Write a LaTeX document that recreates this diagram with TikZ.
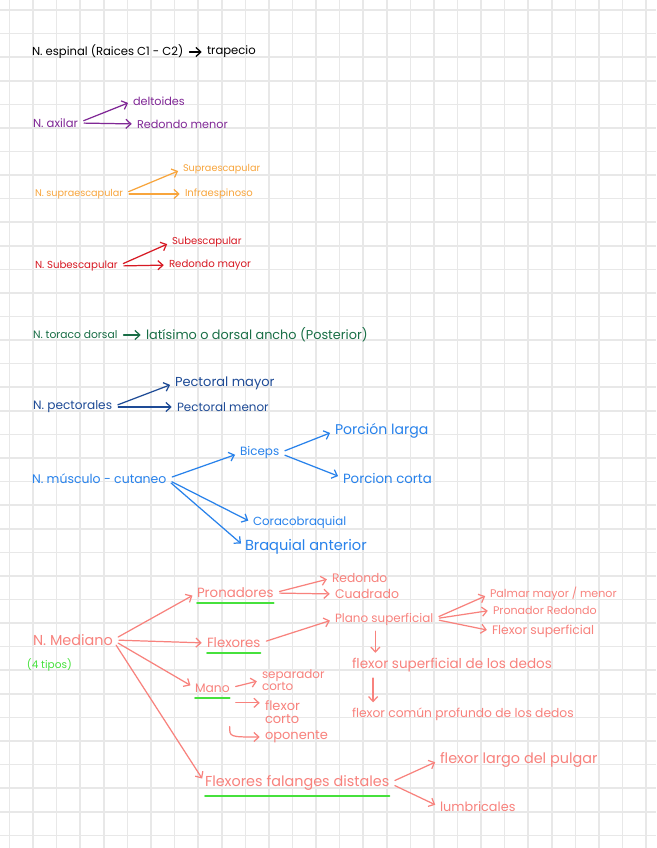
\documentclass[tikz,border=0pt]{standalone}
\usepackage{fontspec}
\setmainfont{Poppins}
\usetikzlibrary{arrows.meta}
\definecolor{gridgray}{RGB}{232,232,232}
\definecolor{axilpurple}{RGB}{128,40,150}
\definecolor{supraorange}{RGB}{248,165,60}
\definecolor{subred}{RGB}{215,25,35}
\definecolor{torgreen}{RGB}{25,110,70}
\definecolor{pecblue}{RGB}{30,75,150}
\definecolor{mcblue}{RGB}{40,130,235}
\definecolor{medsalmon}{RGB}{248,130,125}
\definecolor{limegreen}{RGB}{70,225,60}

\begin{document}
\begin{tikzpicture}[
  x=0.02cm, y=-0.02cm,
  lbl/.style  ={anchor=west, inner sep=0pt, outer sep=0pt, align=left},
  sz/.style   ={font=\fontsize{#1}{#1}\selectfont},
  arr/.style  ={-{Straight Barb[length=2.8pt,width=5.2pt]}, line width=0.7pt,
                line cap=round, shorten <=3.5pt, shorten >=3pt},
  uline/.style={draw=limegreen, line width=1.1pt, line cap=round,
                transform canvas={yshift=-3pt}},
  gridline/.style={draw=gridgray, line width=0.9pt},
]

% paper
\useasboundingbox (0,0) rectangle (656,848);
\fill[white] (0,0) rectangle (656,848);
\foreach \i in {0,...,27}
  \draw[gridline] ({9.5+23.58*\i},0) -- ++(0,848);
\foreach \j in {0,...,35}
  \draw[gridline] (0,{10+23.58*\j}) -- ++(656,0);

% N. espinal
\node[lbl, sz=6.6] (esp)  at (32,52)  {N. espinal (Raices C1 - C2)};
\node[lbl, sz=6.6] (trap) at (207,52) {trapecio};
\draw[arr] (esp) -- (trap);

% N. axilar
\begin{scope}[color=axilpurple]
\node[lbl, sz=6.6] (ax)   at (33,123)  {N. axilar};
\node[lbl, sz=6.4] (del)  at (133,101) {deltoides};
\node[lbl, sz=6.4] (rmen) at (137,124) {Redondo menor};
\draw[arr] (ax.east) -- (del.west);
\draw[arr] (ax.east) -- (rmen.west);
\end{scope}

% N. supraescapular
\begin{scope}[color=supraorange]
\node[lbl, sz=5.5] (supra) at (35,194)  {N. supraescapular};
\node[lbl, sz=5.5] (supe)  at (183,169) {Supraescapular};
\node[lbl, sz=5.7] (infra) at (185,194) {Infraespinoso};
\draw[arr] (supra.east) -- (supe.west);
\draw[arr] (supra.east) -- (infra.west);
\end{scope}

% N. subescapular
\begin{scope}[color=subred]
\node[lbl, sz=5.8] (sub)  at (35,266)  {N. Subescapular};
\node[lbl, sz=5.7] (sube) at (172,242) {Subescapular};
\node[lbl, sz=5.8] (rmay) at (169,265) {Redondo mayor};
\draw[arr] (sub.east) -- (sube.west);
\draw[arr] (sub.east) -- (rmay.west);
\end{scope}

% N. toraco dorsal
\begin{scope}[color=torgreen]
\node[lbl, sz=6.1] (tor) at (33,335)  {N. toraco dorsal};
\node[lbl, sz=7.3] (lat) at (146,335) {latísimo o dorsal ancho (Posterior)};
\draw[arr] (tor) -- (lat);
\end{scope}

% N. pectorales
\begin{scope}[color=pecblue]
\node[lbl, sz=6.9] (pec)  at (33,407)  {N. pectorales};
\node[lbl, sz=7.4] (pmay) at (175,383) {Pectoral mayor};
\node[lbl, sz=6.8] (pmen) at (177,407) {Pectoral menor};
\draw[arr] (pec.east) -- (pmay.west);
\draw[arr] (pec.east) -- (pmen.west);
\end{scope}

% N. musculo-cutaneo
\begin{scope}[color=mcblue]
\node[lbl, sz=7.1] (mc)   at (32,479)  {N. músculo - cutaneo};
\node[lbl, sz=6.8] (bic)  at (240,453) {Biceps};
\node[lbl, sz=8]   (plar) at (335,431) {Porción larga};
\node[lbl, sz=7.6] (pcor) at (343,478) {Porcion corta};
\node[lbl, sz=6.7] (cora) at (253,523) {Coracobraquial};
\node[lbl, sz=8.3] (braq) at (245,547) {Braquial anterior};
\draw[arr] (mc.east) -- (bic.west);
\draw[arr] (mc.east) -- (cora.west);
\draw[arr] (mc.east) -- (braq.west);
\draw[arr] (bic.east) -- (plar.west);
\draw[arr] (bic.east) -- (pcor.west);
\end{scope}

% N. mediano
\begin{scope}[color=medsalmon]
\node[lbl, sz=8.2] (med)   at (33,640)  {N. Mediano};
\node[lbl, sz=6, text=limegreen] (tipos) at (27,665) {(4 tipos)};
\node[lbl, sz=7.6] (pron)  at (197,593) {Pronadores};
\node[lbl, sz=7.6] (flex)  at (207,643) {Flexores};
\node[lbl, sz=7]   (mano)  at (195,688) {Mano};
\node[lbl, sz=8.2] (ffd)   at (205,783) {Flexores falanges distales};
\node[lbl, sz=7]   (red)   at (332,578) {Redondo};
\node[lbl, sz=7.1] (cuad)  at (335,594) {Cuadrado};
\node[lbl, sz=6.8] (plano) at (335,619) {Plano superficial};
\node[lbl, sz=6.3] (palm)  at (490,594) {Palmar mayor / menor};
\node[lbl, sz=6.3] (prr)   at (493,610) {Pronador Redondo};
\node[lbl, sz=7]   (fsup)  at (492,631) {Flexor superficial};
\node[lbl, sz=7.7] (fsd)   at (352,665) {flexor superficial de los dedos};
\node[lbl, sz=7]   (fcp)   at (352,714) {flexor común profundo de los dedos};
\node[lbl, sz=6.8] (sep)   at (262,680) {separador\\corto};
\node[lbl, sz=7.4] (fco)   at (265,712) {flexor\\corto};
\node[lbl, sz=7.4] (opo)   at (265,737) {oponente};
\node[lbl, sz=8.2] (flp)   at (440,760) {flexor largo del pulgar};
\node[lbl, sz=7.3] (lum)   at (440,807) {lumbricales};

\draw[arr] (med.east) -- (pron.west);
\draw[arr] (med.east) -- (flex.west);
\draw[arr] (med.east) -- (mano.west);
\draw[arr] (med.east) -- (ffd.west);

\draw[arr] (pron.east) -- (red.west);
\draw[arr] (pron.east) -- (cuad.west);
\draw[arr] (flex.east) -- (plano.west);
\draw[arr] (plano.east) -- (palm.west);
\draw[arr] (plano.east) -- (prr.west);
\draw[arr] (plano.east) -- (fsup.west);
\draw[arr] ([xshift=-5pt]plano.south) -- ([xshift=-5pt]plano.south |- fsd.north);
\draw[arr] ([xshift=12pt]fsd.south west) -- ([xshift=12pt]fcp.north west);

\coordinate (mlow) at ([yshift=-6pt]mano.south east);
\coordinate (mopo) at ([yshift=-16pt]mano.south east);
\draw[arr] (mano.east) -- (sep.west);
\draw[arr] (mlow) -- (mlow -| fco.west);
\draw[arr] (mopo) .. controls (mopo |- opo.west) .. (opo.west);

\draw[arr] (ffd.east) -- (flp.west);
\draw[arr] (ffd.east) -- (lum.west);

% underlines
\draw[uline] (pron.south west) -- (pron.south east);
\draw[uline] (flex.south west) -- (flex.south east);
\draw[uline] (mano.south west) -- (mano.south east);
\draw[uline] (ffd.south west) -- (ffd.south east);
\end{scope}

\end{tikzpicture}
\end{document}
